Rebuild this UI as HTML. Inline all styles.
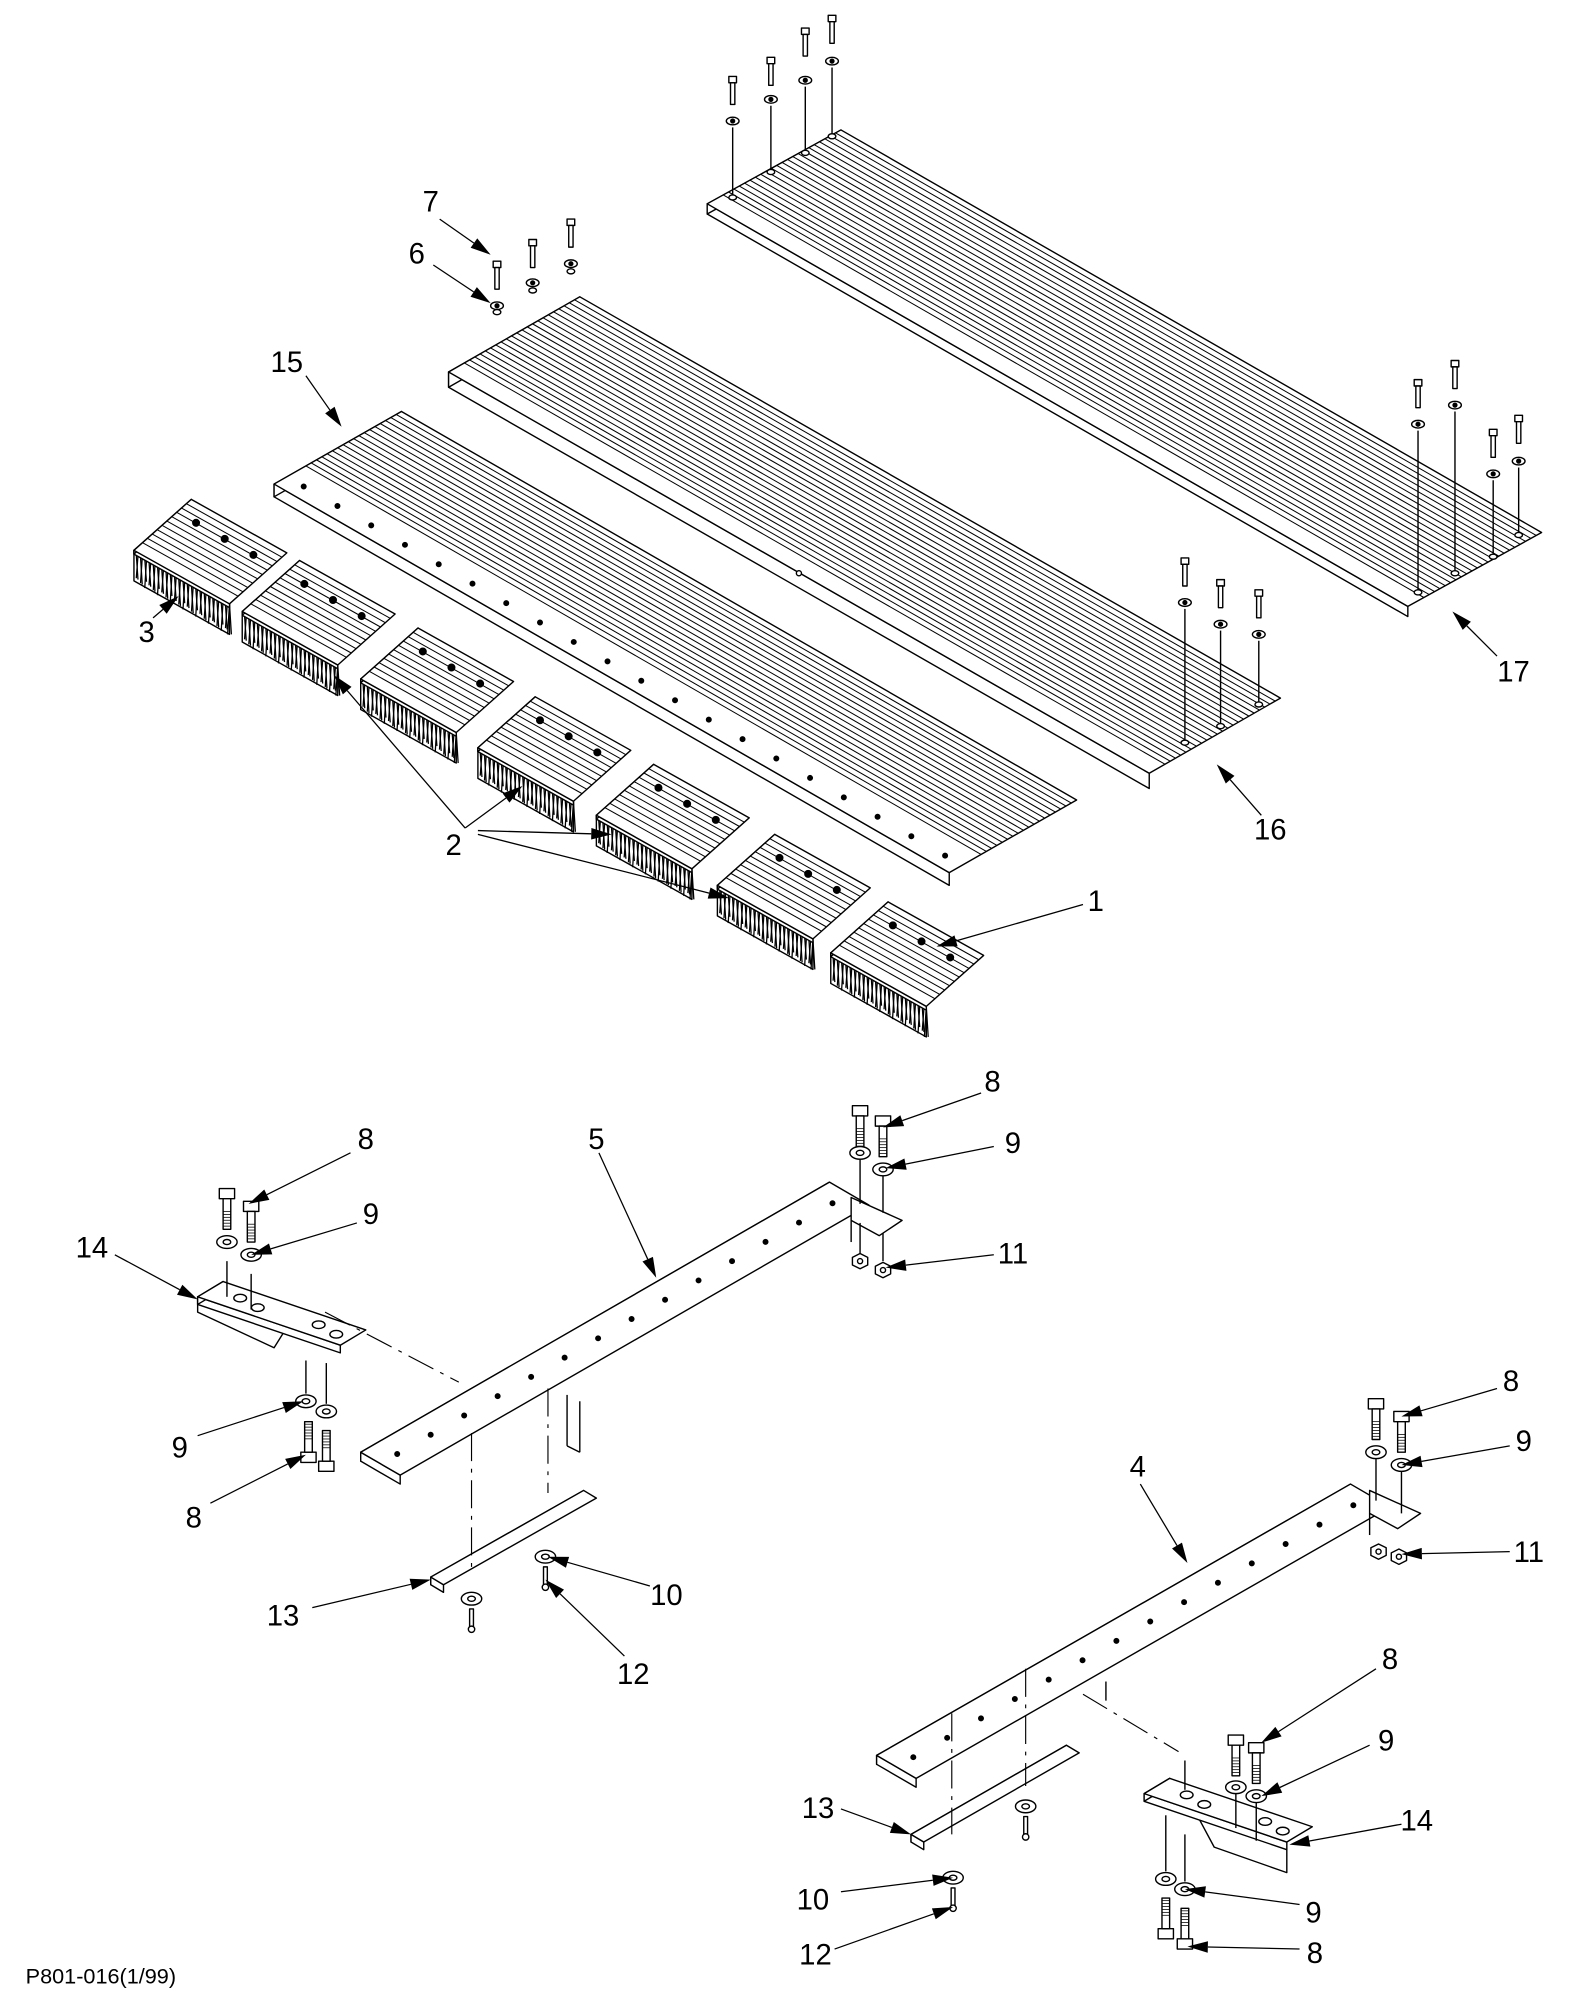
<!DOCTYPE html>
<html><head><meta charset="utf-8"><style>
html,body{margin:0;padding:0;background:#fff;}
svg{display:block;}
text{font-family:"Liberation Sans",sans-serif;font-size:23px;fill:#000;}
</style></head><body>
<svg id="s" xmlns="http://www.w3.org/2000/svg" width="1580" height="2000" viewBox="0 0 1240 1570">
<rect width="1240" height="1570" fill="#fff"/>
<g id="g" fill="#fff" stroke="#000" stroke-width="1.1" stroke-linejoin="round"></g>
<g id="t"></g>
</svg>
<script>
var g=document.getElementById('g'),out='';
function P(a){return a.map(function(p){return p[0].toFixed(1)+','+p[1].toFixed(1)}).join(' ');}
function poly(a,f){out+='<polygon points="'+P(a)+'" fill="'+(f||'#fff')+'"/>';}
function line(x1,y1,x2,y2,extra){out+='<line x1="'+x1+'" y1="'+y1+'" x2="'+x2+'" y2="'+y2+'" '+(extra||'')+'/>';}
function add(p,v,k){k=k||1;return [p[0]+v[0]*k,p[1]+v[1]*k];}
function slab(F,L,W,t,ribFrom,ribN,holes){
  var B=add(F,W),FR=add(F,L),BR=add(B,L);
  poly([F,FR,[FR[0],FR[1]+t],[F[0],F[1]+t]]);
  poly([F,B,[B[0],B[1]+t],[F[0],F[1]+t]]);
  poly([F,FR,BR,B]);
  if(ribN){for(var i=0;i<ribN;i++){var k=ribFrom+(1-ribFrom)*i/ribN;var a=add(F,W,k),b=add(a,L);line(a[0],a[1],b[0],b[1],'stroke-width="0.8"');}}
  if(holes){for(var i=0;i<holes.n;i++){var k=(i+0.5)/holes.n;var p=add(add(F,L,k),W,holes.w);out+='<circle cx="'+p[0]+'" cy="'+p[1]+'" r="1.8" fill="#000"/>';}}
}
slab([555,160],[550,316],[105,-58],8,0.12,22);
slab([352,292],[550,315],[103,-59],12,0.12,22);
out+='<circle cx="627" cy="450" r="2" fill="#fff"/>';
slab([215,380],[530,305],[100,-57],10,0.25,18,{n:20,w:0.1});
var br=[[105,432],[190,480],[283,533],[375,587],[468,640],[563,695],[652,748]];
br.forEach(function(F){
  var L=[75,42],W=[45,-40],t=24;
  var FR=add(F,L);
  poly([F,FR,[FR[0],FR[1]+t],[F[0],F[1]+t]]);
  for(var i=0;i<=45;i++){var k=i/45;var p=add(F,L,k);line(p[0],p[1],p[0]+(i%2?1.5:-1.5),p[1]+t-(i%3)*2,'stroke-width="1"');}
  slab(F,L,W,3,0.15,10);
  for(var j=0;j<3;j++){var p=add(add(F,L,0.2+j*0.3),W,0.75);out+='<circle cx="'+p[0]+'" cy="'+p[1]+'" r="2.6" fill="#000"/>';}
});
slab([283,1140],[368,-212],[31,18],7,0,0,{n:14,w:0.5});
slab([688,1378],[372,-213],[31,18],7,0,0,{n:14,w:0.5});
poly([[668,940],[708,958],[690,970],[668,958]]);line(668,958,668,975);
poly([[1075,1170],[1115,1188],[1097,1200],[1075,1188]]);line(1075,1188,1075,1205);
slab([338,1238],[120,-68],[10,6],6);
slab([715,1440],[122,-70],[10,6],6);
function bracket(F,flip){
  var L=[112,38],W=[20,-12];
  if(!flip){poly([[F[0],F[1]],[F[0]+70,F[1]+24],[F[0]+60,F[1]+40],[F[0],F[1]+12]]);}
  else{poly([[F[0]+40,F[1]+14],[F[0]+112,F[1]+38],[F[0]+112,F[1]+62],[F[0]+55,F[1]+42]]);}
  slab(F,L,W,6);
  [[0.2,0.45],[0.35,0.6],[0.75,0.45],[0.9,0.6]].forEach(function(h){var p=add(add(F,L,h[0]),W,1-h[1]);out+='<ellipse cx="'+p[0]+'" cy="'+p[1]+'" rx="5" ry="3"/>';});
}
bracket([155,1018],false);
bracket([898,1408],true);
function pbolt(x,y,w,h){
  out+='<rect x="'+(x-3)+'" y="'+y+'" width="6" height="5"/>';
  out+='<rect x="'+(x-1.7)+'" y="'+(y+5)+'" width="3.4" height="17"/>';
  out+='<ellipse cx="'+x+'" cy="'+w+'" rx="5" ry="3"/><circle cx="'+x+'" cy="'+w+'" r="1.5" fill="#000"/>';
  line(x,w+5,x,h);out+='<ellipse cx="'+x+'" cy="'+h+'" rx="3" ry="2"/>';
}
[[575,60,95,155],[605,45,78,135],[632,22,63,120],[653,12,48,107],[1113,298,333,465],[1142,283,318,450],[1172,337,372,437],[1192,326,362,420],[390,205,240,245],[418,188,222,228],[448,172,207,213],[930,438,473,583],[958,455,490,570],[988,463,498,553]].forEach(function(b){pbolt(b[0],b[1],b[2],b[3]);});
function bolt(x,y,down){
  if(down){out+='<polygon points="'+P([[x-6,y],[x+6,y],[x+6,y+8],[x-6,y+8]])+'"/>';out+='<rect x="'+(x-3)+'" y="'+(y+8)+'" width="6" height="24"/>';for(var i=0;i<6;i++)line(x-3,y+18+i*2.3,x+3,y+18+i*2.3,'stroke-width="0.6"');}
  else{out+='<polygon points="'+P([[x-6,y],[x+6,y],[x+6,y-8],[x-6,y-8]])+'"/>';out+='<rect x="'+(x-3)+'" y="'+(y-32)+'" width="6" height="24"/>';for(var i=0;i<6;i++)line(x-3,y-30+i*2.3,x+3,y-30+i*2.3,'stroke-width="0.6"');}
}
function washer(x,y){out+='<ellipse cx="'+x+'" cy="'+y+'" rx="8" ry="5"/><ellipse cx="'+x+'" cy="'+y+'" rx="3" ry="2"/>';}
function nut(x,y){out+='<polygon points="'+P([[x-6,y-3],[x,y-6],[x+6,y-3],[x+6,y+3],[x,y+6],[x-6,y+3]])+'"/>';out+='<circle cx="'+x+'" cy="'+y+'" r="2"/>';}
bolt(178,933,1);bolt(197,943,1);washer(178,975);washer(197,985);line(178,990,178,1018);line(197,1000,197,1028);
washer(240,1100);washer(256,1108);bolt(242,1148,0);bolt(256,1155,0);line(240,1068,240,1094);line(256,1070,256,1102);
bolt(675,868,1);bolt(693,876,1);washer(675,905);washer(693,918);line(675,910,675,945);line(693,923,693,952);
nut(675,990);nut(693,997);line(675,960,675,984);line(693,968,693,990);
bolt(1080,1098,1);bolt(1100,1108,1);washer(1080,1140);washer(1100,1150);line(1080,1145,1080,1178);line(1100,1155,1100,1188);
nut(1082,1218);nut(1098,1222);
bolt(970,1362,1);bolt(986,1368,1);washer(970,1403);washer(986,1410);line(970,1408,970,1435);line(986,1415,986,1445);
washer(915,1475);washer(930,1483);bolt(915,1522,0);bolt(930,1530,0);line(915,1425,915,1469);line(930,1440,930,1477);
function screw(x,y){washer(x,y);out+='<rect x="'+(x-1.5)+'" y="'+(y+8)+'" width="3" height="14"/><circle cx="'+x+'" cy="'+(y+24)+'" r="2.5"/>';}
screw(428,1222);screw(370,1255);screw(805,1418);screw(748,1474);
var dd='stroke-dasharray="22,6,3,6" stroke-width="0.9"';
line(255,1030,360,1085,dd);line(850,1330,925,1375,dd);
line(370,1125,370,1232,dd);line(430,1090,430,1172,dd);
line(747,1345,747,1440,dd);line(805,1310,805,1402,dd);
line(455,1100,455,1140);line(445,1095,445,1135);line(445,1135,455,1140);
line(868,1320,868,1335);line(930,1382,930,1405);
g.innerHTML=out;
var t='';
function arr(x1,y1,x2,y2){var dx=x2-x1,dy=y2-y1,l=Math.sqrt(dx*dx+dy*dy),ux=dx/l,uy=dy/l,L=16,w=4.5;
 var bx=x2-ux*L,by=y2-uy*L;
 t+='<line x1="'+x1+'" y1="'+y1+'" x2="'+bx+'" y2="'+by+'" stroke="#000" stroke-width="1"/>';
 t+='<polygon points="'+P([[x2,y2],[bx-uy*w,by+ux*w],[bx+uy*w,by-ux*w]])+'" fill="#000"/>';}
function lab(s,x,y){t+='<text x="'+x+'" y="'+(y+9)+'" text-anchor="middle">'+s+'</text>';}
[["7",338,157],["6",327,198],["15",225,283],["3",115,495],["2",356,662],["1",860,706],["16",997,650],["17",1188,526],
["8",287,893],["9",291,952],["14",72,978],["5",468,893],["8",779,848],["9",795,896],["11",795,983],["9",141,1135],["8",152,1190],
["13",222,1267],["10",523,1251],["12",497,1313],["8",1186,1083],["9",1196,1130],["4",893,1150],["11",1200,1217],["8",1091,1301],
["9",1088,1365],["13",642,1418],["14",1112,1428],["10",638,1490],["12",640,1533],["9",1031,1500],["8",1032,1532]].forEach(function(a){lab(a[0],a[1],a[2]);});
[[345,172,385,200],[340,208,385,238],[240,295,268,335],[120,485,140,468],[365,650,262,530],[365,650,410,617],[375,652,480,655],[375,655,572,705],
[850,710,735,743],[990,640,955,600],[1175,515,1140,480],[275,905,195,945],[280,960,197,985],[90,985,155,1020],[470,905,515,1003],
[770,858,693,885],[780,900,695,917],[780,985,695,995],[155,1127,238,1100],[165,1180,240,1142],[245,1262,338,1240],[510,1245,430,1222],
[490,1300,428,1240],[1175,1090,1100,1112],[1185,1135,1100,1150],[895,1165,932,1227],[1185,1218,1100,1220],[1080,1310,990,1368],
[1075,1370,990,1410],[660,1420,715,1440],[1100,1432,1012,1448],[660,1485,748,1474],[655,1530,748,1497],[1020,1495,930,1483],[1020,1530,932,1528]].forEach(function(a){arr(a[0],a[1],a[2],a[3]);});
t+='<text x="20" y="1557" style="font-size:17px">P801-016(1/99)</text>';
document.getElementById('t').innerHTML=t;
</script>
</body></html>
